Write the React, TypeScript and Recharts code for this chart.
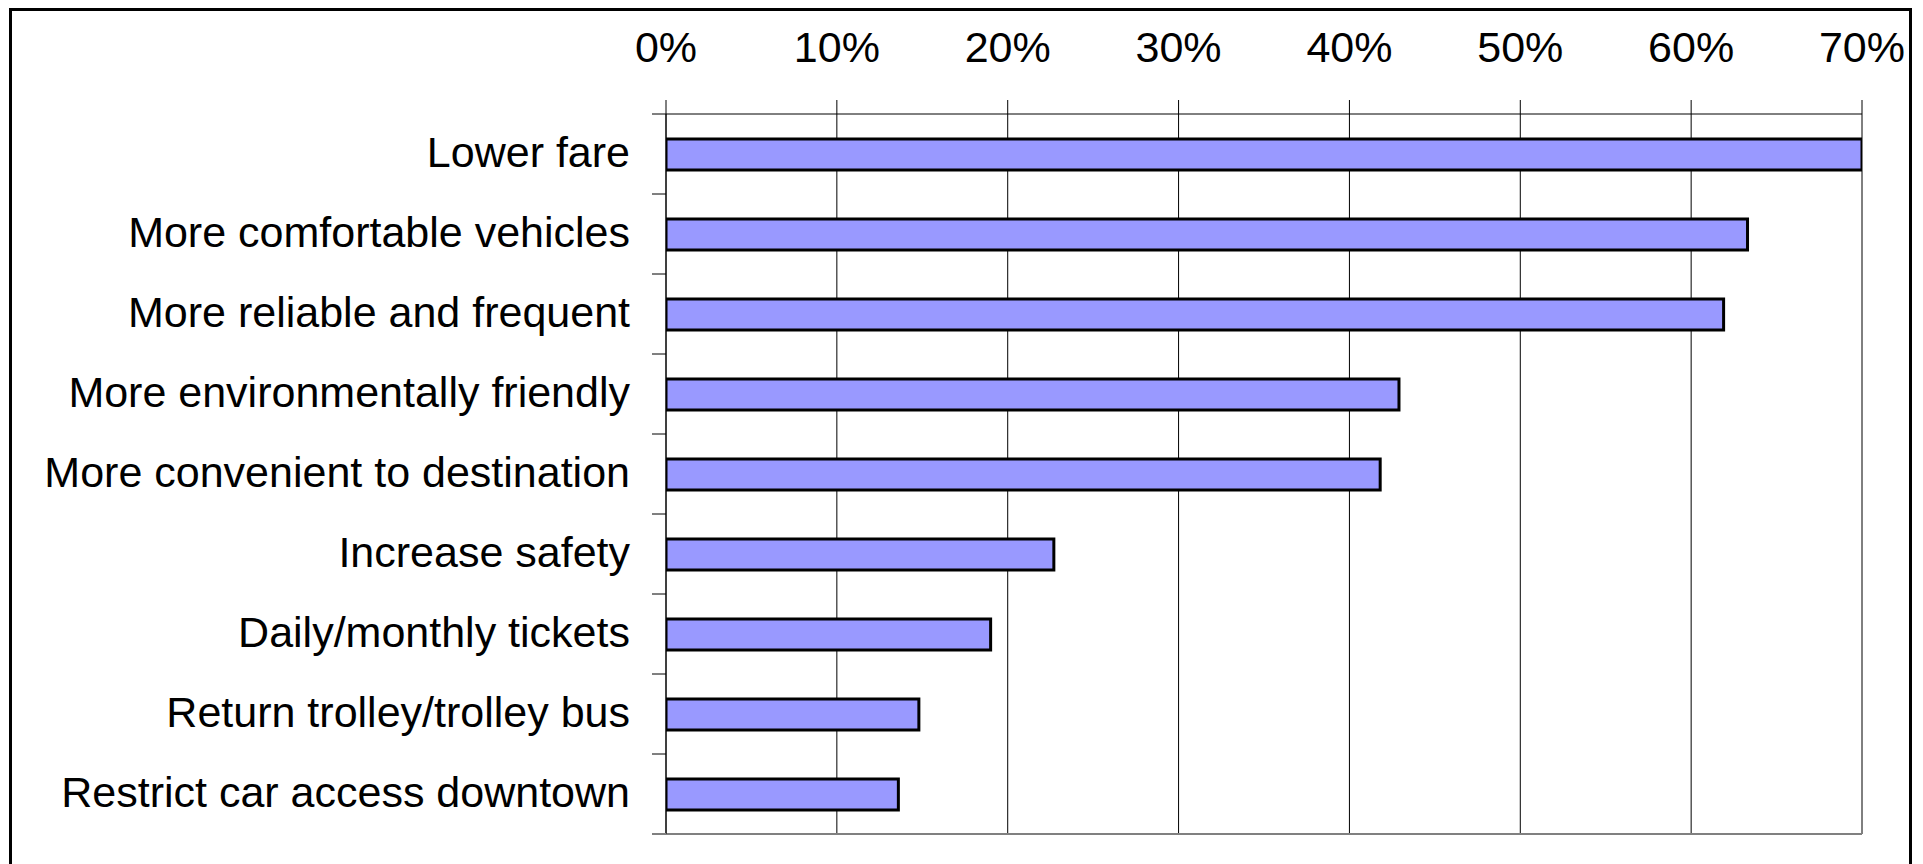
import React from 'react';
import { BarChart, Bar, XAxis, YAxis, CartesianGrid } from 'recharts';

const categories = [
  'Lower fare',
  'More comfortable vehicles',
  'More reliable and frequent',
  'More environmentally friendly',
  'More convenient to destination',
  'Increase safety',
  'Daily/monthly tickets',
  'Return trolley/trolley bus',
  'Restrict car access downtown',
];
const shares = [70, 63.3, 61.9, 42.9, 41.8, 22.7, 19.0, 14.8, 13.6];
const xTicks = [0, 10, 20, 30, 40, 50, 60, 70];

const data = categories.map((category, i) => ({ category, share: shares[i] }));

const FONT = '"Liberation Sans", Arial, Helvetica, sans-serif';
const TICK_SIZE = 14;
const TICK_MARGIN = 22;

function CategoryTick(props: any) {
  const { x, y, payload, index } = props;
  const half = payload && typeof payload.offset === 'number' && payload.offset > 0 ? payload.offset : 40;
  const axisX = x + TICK_SIZE + TICK_MARGIN;
  const last = index === categories.length - 1;
  return (
    <g>
      <line x1={axisX - TICK_SIZE} x2={axisX} y1={y - half} y2={y - half} stroke="#000" strokeWidth={1} />
      {last && (
        <line x1={axisX - TICK_SIZE} x2={axisX} y1={y + half} y2={y + half} stroke="#808080" strokeWidth={2} />
      )}
      <text x={x} y={y} dy="0.3em" textAnchor="end" fill="#000" fontSize={43} fontFamily={FONT}>
        {payload.value}
      </text>
    </g>
  );
}

export default function App() {
  return (
    <div
      style={{
        position: 'fixed',
        left: 9,
        top: 8,
        width: 1903,
        height: 870,
        boxSizing: 'border-box',
        borderLeft: '3px solid #000',
        borderTop: '3px solid #000',
        borderRight: '3px solid #000',
        background: '#fff',
      }}
    >
      <BarChart
        width={1897}
        height={849}
        data={data}
        layout="vertical"
        margin={{ top: 0, right: 47, bottom: 24, left: 0 }}
      >
        <CartesianGrid vertical horizontal={false} stroke="#000" strokeWidth={1} />
        <XAxis
          type="number"
          orientation="top"
          domain={[0, 70]}
          ticks={xTicks}
          tickFormatter={(v: number) => `${v}%`}
          height={103}
          tickSize={TICK_SIZE}
          tickMargin={38}
          tickLine={{ stroke: '#000' }}
          axisLine={{ stroke: '#000' }}
          tick={{ fill: '#000', fontSize: 43, fontFamily: FONT }}
          interval={0}
          allowDataOverflow
        />
        <XAxis
          xAxisId="bottom"
          type="number"
          orientation="bottom"
          domain={[0, 70]}
          height={2}
          tick={false}
          tickLine={false}
          axisLine={{ stroke: '#808080', strokeWidth: 2 }}
        />
        <YAxis
          type="category"
          dataKey="category"
          width={654}
          interval={0}
          tickSize={TICK_SIZE}
          tickMargin={TICK_MARGIN}
          tickLine={false}
          axisLine={{ stroke: '#000' }}
          tick={<CategoryTick />}
        />
        <Bar
          dataKey="share"
          fill="#9999FF"
          stroke="#000"
          strokeWidth={3}
          barSize={31}
          isAnimationActive={false}
        />
      </BarChart>
    </div>
  );
}
